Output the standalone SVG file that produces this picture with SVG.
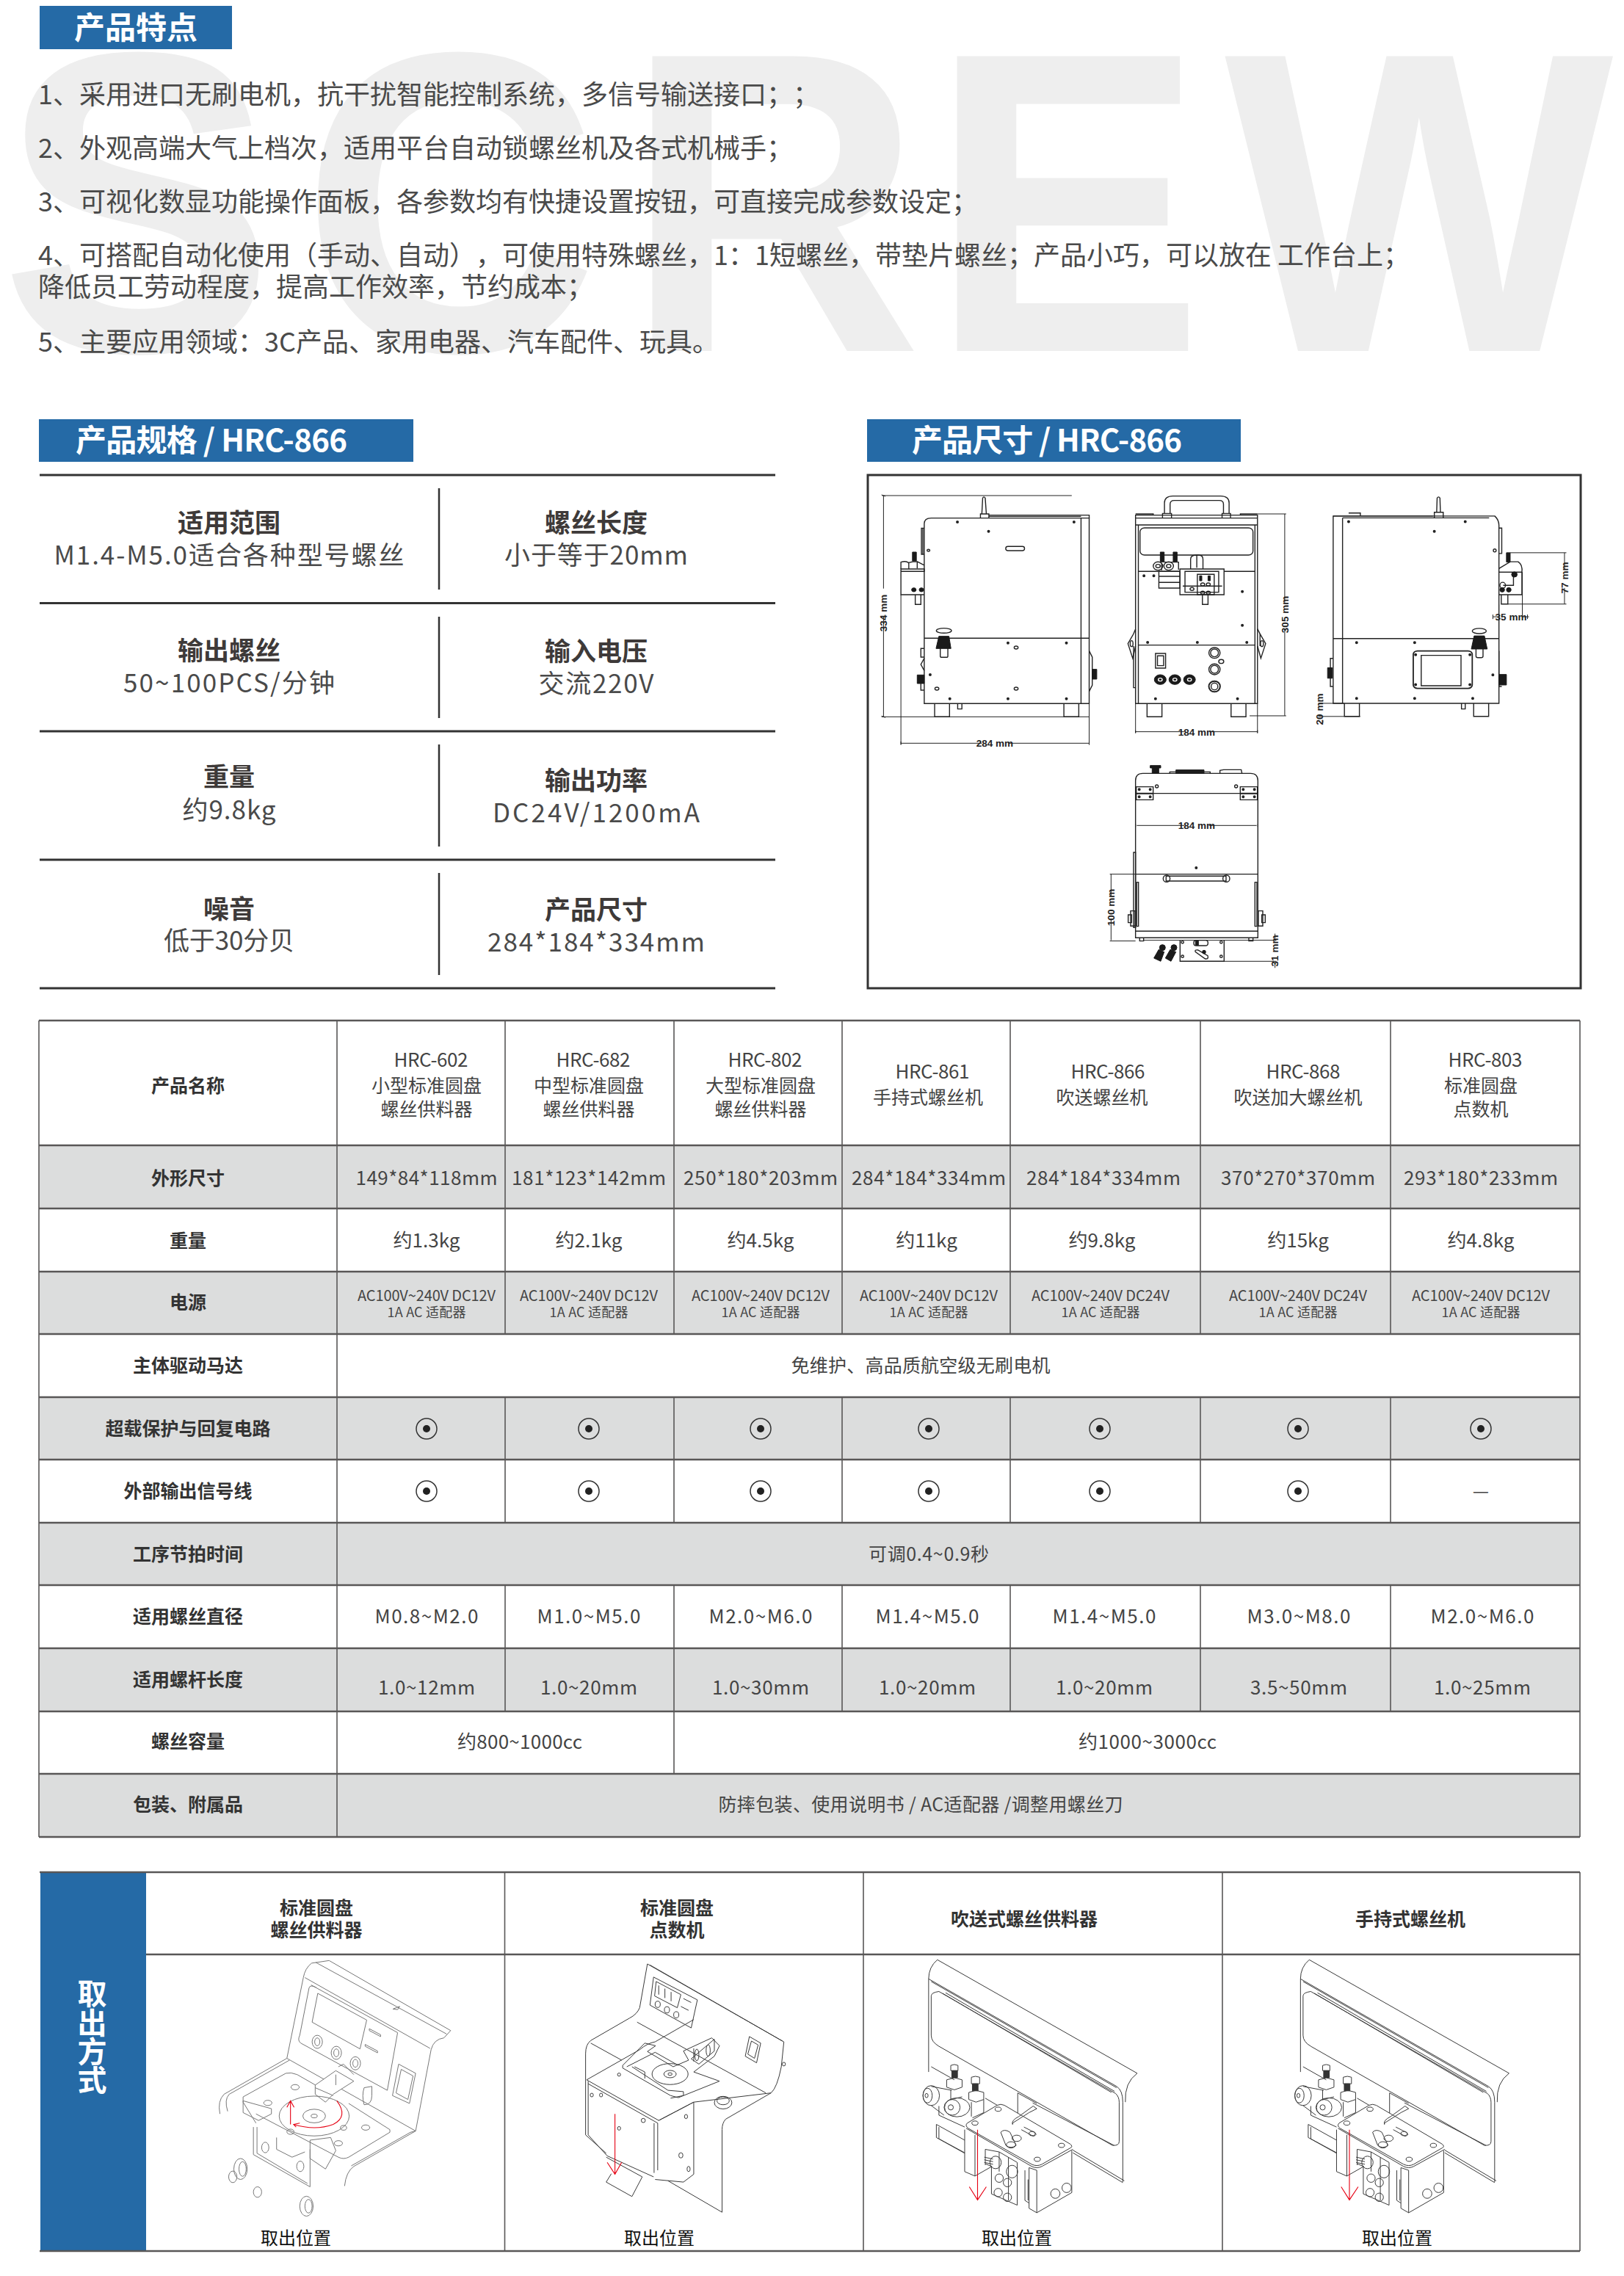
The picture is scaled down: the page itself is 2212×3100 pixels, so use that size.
<svg xmlns="http://www.w3.org/2000/svg" width="2212" height="3100" viewBox="0 0 2212 3100">
<style>
text{font-family:"Noto Sans CJK SC","Noto Sans",sans-serif;fill:#444;text-spacing-trim:space-all}
.f{font-size:36px;fill:#4a4a4a}
.h{font-size:42px;font-weight:700;fill:#fff;text-anchor:middle}
.sb{font-size:35px;font-weight:700;text-anchor:middle;fill:#3e3a39}
.sr{font-size:35px;text-anchor:middle;fill:#4a4a4a}
.lb{font-size:25px;font-weight:700;text-anchor:middle;fill:#333}
.v{font-size:25px;text-anchor:middle;fill:#444}
.n{font-size:26px;text-anchor:middle;fill:#444}
.p{font-size:20px;text-anchor:middle;fill:#444}
.q{font-size:18px;text-anchor:middle;fill:#444}
.k{font-size:24px;text-anchor:middle;fill:#111}
.d{font-family:"Liberation Sans",Arial,sans-serif;font-size:13.5px;font-weight:700;text-anchor:middle;fill:#222}
.hl{fill:#256aa6}
.g{fill:#dcdddd}
.ln,.ln *{fill:none;stroke:#222;stroke-width:1.4;vector-effect:non-scaling-stroke}
.th,.ln .th{fill:none;stroke:#222;stroke-width:1;vector-effect:non-scaling-stroke}
.bk,.ln .bk{fill:#1a1a1a;stroke:#1a1a1a;stroke-width:1;vector-effect:non-scaling-stroke}
.dt,.ln .dt{fill:none;stroke:#222;stroke-width:4;stroke-linecap:round;vector-effect:non-scaling-stroke}
.iso,.iso *{fill:none;stroke:#3a3a3a;stroke-width:1;vector-effect:non-scaling-stroke}
.lt,.lt *{stroke:#777}
.iso .red{stroke:#e60012;stroke-width:1.1;fill:none}
.iso .fw{fill:#fff}
.iso .bk2{fill:#333;stroke:#333}
</style>
<defs>
<g id="radio"><circle r="14" fill="none" stroke="#333" stroke-width="1.5"/><circle r="5" fill="#222"/></g>
<g id="blow" class="iso">
<path d="M252,362Q235,390 235,435V790M252,362L640,795Q615,830 617,905M235,435L600,845Q612,860 612,905V1210M240,445L600,850"/>
<path d="M255,483L598,872Q605,885 605,905V1055Q605,1072 592,1070L255,692Q240,675 240,650V500Q240,487 255,483ZM262,490L590,868M268,488L596,864"/>
<path d="M240,770L285,820M345,890L440,1000M437,908L595,1070M408,870V955M408,870L445,910"/>
<path d="M515,1088L615,1205M515,1098L612,1212"/>
<path d="M278,765Q285,758 292,765V785H278ZM318,810Q326,803 334,810V835H318Z"/>
<path class="bk2" d="M280,785H291V812H280ZM320,835H331V862H320Z"/>
<path d="M270,820L285,812L300,820V848L285,858L270,848ZM313,868L327,860L342,868V895L327,905L313,895ZM278,858V895L300,885M318,905V960M342,895V945L320,965"/>
<ellipse cx="240" cy="880" rx="16" ry="38"/><ellipse cx="233" cy="880" rx="9" ry="28"/><ellipse cx="231" cy="880" rx="3" ry="8"/>
<ellipse cx="290" cy="925" rx="25" ry="36"/><ellipse cx="281" cy="925" rx="15" ry="30"/><ellipse cx="278" cy="925" rx="5" ry="10"/>
<path d="M240,845L280,860M240,918L265,955M255,920V955L305,1000M250,990V1040L305,1100M255,1000V1045L305,1098M250,990L305,1050"/>
<path class="fw" d="M310,985L368,917Q375,910 382,917L510,1065Q516,1075 510,1080L455,1142Q445,1152 435,1142L312,1005Q305,995 310,985Z"/>
<path d="M308,1005L435,1150Q445,1160 455,1150L515,1085"/>
<ellipse cx="325" cy="985" rx="6" ry="8"/><ellipse cx="370" cy="932" rx="6" ry="8"/><ellipse cx="493" cy="1070" rx="6" ry="8"/><ellipse cx="446" cy="1123" rx="6" ry="8"/>
<path d="M375,1020Q382,1005 393,1020L405,1070Q395,1085 385,1070ZM398,985L430,945L445,930L438,920L410,960Q395,975 398,990ZM420,1000L440,1020Q448,1030 438,1035L415,1010"/>
<ellipse cx="406" cy="1043" rx="9" ry="12"/><ellipse cx="436" cy="1025" rx="6" ry="8"/><ellipse cx="395" cy="1068" rx="9" ry="12"/>
<path d="M305,1010V1170L325,1187L358,1150M325,1030V1187"/>
<path d="M345,1085V1145M345,1085L372,1095L407,1135V1298L357,1255V1150L345,1140M372,1095V1170M390,1115V1280"/>
<path d="M343,1115L360,1122M343,1125L360,1132M343,1135L360,1142"/>
<ellipse cx="365" cy="1135" rx="11" ry="24"/><ellipse cx="397" cy="1170" rx="11" ry="24"/><ellipse cx="372" cy="1195" rx="8" ry="16"/><ellipse cx="388" cy="1212" rx="8" ry="16"/><ellipse cx="370" cy="1250" rx="8" ry="16"/><ellipse cx="388" cy="1268" rx="8" ry="16"/>
<path d="M430,1155V1310L445,1327V1165L430,1155M445,1327L513,1250V1090M422,1165V1280L430,1290M428,1200V1280"/>
<ellipse cx="481" cy="1254" rx="9" ry="18"/><ellipse cx="503" cy="1232" rx="9" ry="18"/>
<path class="red" d="M330,1010V1278M314,1228L330,1278L347,1228"/>
</g>
</defs>

<g id="watermark"><text transform="translate(0,478) scale(1,1.04)" x="0 410 851 1266 1668" y="0" font-size="561" font-weight="700" style="font-family:'Liberation Sans',Arial,sans-serif;fill:#eeeeee">SCREW</text></g>

<g id="features">
<rect class="hl" x="54" y="8" width="262" height="59"/>
<text class="h" x="185" y="53">产品特点</text>
<text class="f" x="52" y="142">1、采用进口无刷电机，抗干扰智能控制系统，多信号输送接口；；</text>
<text class="f" x="52" y="215">2、外观高端大气上档次，适用平台自动锁螺丝机及各式机械手；</text>
<text class="f" x="52" y="288">3、可视化数显功能操作面板，各参数均有快捷设置按钮，可直接完成参数设定；</text>
<text class="f" x="52" y="361">4、可搭配自动化使用（手动、自动），可使用特殊螺丝，1：1短螺丝，带垫片螺丝；产品小巧，可以放在 工作台上；</text>
<text class="f" x="52" y="404">降低员工劳动程度，提高工作效率，节约成本；</text>
<text class="f" x="52" y="479">5、主要应用领域：3C产品、家用电器、汽车配件、玩具。</text>
</g>

<g id="spec">
<rect class="hl" x="53" y="571" width="510" height="58"/>
<text class="h" x="288" y="615" textLength="370">产品规格 / HRC-866</text>
<path fill="none" stroke="#333" stroke-width="3" d="M54,647H1056M54,821.5H1056M54,996H1056M54,1171H1056M54,1346H1056"/>
<path fill="none" stroke="#333" stroke-width="2.5" d="M598,665V803M598,840V978M598,1014V1153M598,1189V1328"/>
<text class="sb" x="312" y="725">适用范围</text><text class="sr" x="312" y="769" textLength="477">M1.4-M5.0适合各种型号螺丝</text>
<text class="sb" x="812" y="725">螺丝长度</text><text class="sr" x="812" y="769" textLength="250">小于等于20mm</text>
<text class="sb" x="312" y="899">输出螺丝</text><text class="sr" x="312" y="943" textLength="288">50~100PCS/分钟</text>
<text class="sb" x="812" y="900">输入电压</text><text class="sr" x="812" y="944" textLength="157">交流220V</text>
<text class="sb" x="312" y="1071">重量</text><text class="sr" x="312" y="1116" textLength="127">约9.8kg</text>
<text class="sb" x="812" y="1076">输出功率</text><text class="sr" x="812" y="1120" textLength="282">DC24V/1200mA</text>
<text class="sb" x="312" y="1251">噪音</text><text class="sr" x="312" y="1294" textLength="178">低于30分贝</text>
<text class="sb" x="812" y="1252">产品尺寸</text><text class="sr" x="812" y="1296" textLength="296">284*184*334mm</text>
</g>

<g id="dimensions">
<rect class="hl" x="1181" y="571" width="509" height="58"/>
<text class="h" x="1426" y="615" textLength="368">产品尺寸 / HRC-866</text>
<rect x="1182" y="647" width="971" height="699" fill="#fff" stroke="#333" stroke-width="3"/>

<g id="view-side" class="ln" transform="translate(1190,650) scale(.3827,.3333)">
<path d="M180,925V190Q180,167 205,167H767V925ZM738,167V925M180,658H767"/>
<path d="M410,155H767V167M410,160H738"/>
<path d="M385,150L388,85Q392,76 397,85L401,150M380,167V150H410V167"/>
<path d="M217,925V979H270V925M677,925V979H730V925M299,925V947H314V925"/>
<path d="M180,208H170V315H180M175,208V315"/>
<rect x="470" y="283" width="67" height="17" rx="8"/>
<path d="M97,385H180V375H97ZM97,385V480H180"/>
<path d="M148,480V520H168V480"/>
<rect class="bk" x="138" y="306" width="14" height="36"/>
<path d="M122,350L140,345H155V372M155,345L180,360M97,375V347Q115,340 125,350V375"/>
<ellipse class="bk" cx="143" cy="460" rx="8" ry="8"/><ellipse class="bk" cx="170" cy="460" rx="8" ry="8"/>
<ellipse cx="250" cy="627" rx="27" ry="10"/>
<rect x="237" y="690" width="27" height="46" rx="5"/>
<path class="bk" d="M232,650H268L275,700H222Z"/>
<path d="M767,710L778,735V850L767,875"/><rect class="bk" x="778" y="785" width="16" height="40"/>
<path d="M180,700H168V735H180M180,740L168,765L180,790M168,840V870H180"/>
<rect class="bk" x="155" y="808" width="25" height="35"/>
<path class="dt" d="M298,183h0M713,183h0M409,221h0M478,677h0M686,677h0M201,807h0M271,905h0M478,905h0M686,905h0"/>
<ellipse cx="195" cy="299" rx="5" ry="4"/><ellipse cx="507" cy="696" rx="7" ry="6"/><ellipse cx="225" cy="864" rx="7" ry="6"/><ellipse cx="507" cy="864" rx="7" ry="6"/>
<path class="th" d="M30,75H705M35,75V455M35,570V979M28,979H767M97,480V1092M767,925V1092M97,1087H385M480,1087H767M28,72L42,78M28,976L42,982M97,1080V1094M767,1080V1094"/>
</g>

<g id="view-front" class="ln" transform="translate(1190,650) scale(.3827,.3333)">
<path d="M932,925V155H1366V925ZM942,195V925M1357,195V925M932,167H1366M932,195H1366M932,155H995V150H932M1305,155V150H1366M942,686H1357M942,385H1090M1247,385H1357"/>
<rect x="948" y="207" width="402" height="111" rx="16"/>
<path d="M1035,148V105Q1035,77 1065,77H1235Q1265,77 1265,105V148M1055,148V110Q1055,95 1070,95H1230Q1245,95 1245,110V148M1028,165V148H1060V165M1240,165V148H1270V165"/>
<path d="M1128,375V335Q1128,318 1150,318H1155Q1172,318 1172,335V375M1150,318V370"/>
<path d="M1090,375H1247V480H1090ZM1108,385H1228V470H1108ZM1100,445H1240"/>
<rect x="1152" y="397" width="60" height="83"/>
<path class="bk" d="M1160,403h8v20h-8ZM1190,403h8v20h-8Z"/>
<ellipse cx="1171" cy="438" rx="7" ry="6"/><ellipse cx="1191" cy="438" rx="7" ry="6"/><ellipse cx="1171" cy="472" rx="7" ry="6"/><ellipse cx="1191" cy="472" rx="7" ry="6"/><ellipse cx="1133" cy="457" rx="7" ry="6"/>
<path d="M1170,480V520H1190V480"/>
<path d="M1015,385H1090V453H1015ZM1015,405H1090M1015,430H1090"/>
<rect class="bk" x="1020" y="306" width="14" height="40"/><rect class="bk" x="1066" y="306" width="14" height="40"/>
<ellipse cx="1012" cy="363" rx="17" ry="17"/><ellipse cx="1012" cy="363" rx="8" ry="7"/><ellipse cx="1050" cy="363" rx="17" ry="17"/><ellipse cx="1050" cy="363" rx="8" ry="7"/>
<path d="M1033,347H1085V378M1025,350V380"/>
<rect x="1003" y="720" width="36" height="60"/><rect x="1010" y="730" width="22" height="40"/>
<ellipse class="bk" cx="1020" cy="827" rx="21" ry="20"/><ellipse class="bk" cx="1072" cy="827" rx="21" ry="20"/><ellipse class="bk" cx="1124" cy="827" rx="21" ry="20"/>
<ellipse cx="1020" cy="827" rx="7" ry="6" style="stroke:#fff"/><ellipse cx="1072" cy="827" rx="7" ry="6" style="stroke:#fff"/><ellipse cx="1124" cy="827" rx="7" ry="6" style="stroke:#fff"/>
<ellipse cx="1213" cy="718" rx="20" ry="22"/><ellipse cx="1213" cy="718" rx="14" ry="16"/><ellipse cx="1213" cy="785" rx="20" ry="22"/><ellipse cx="1213" cy="785" rx="14" ry="16"/><ellipse cx="1213" cy="855" rx="20" ry="22" style="stroke-width:2"/><ellipse cx="1213" cy="855" rx="12" ry="14"/><ellipse cx="1237" cy="753" rx="9" ry="8"/>
<path d="M973,925V979H1026V925M1272,925V979H1325V925"/>
<path d="M932,620L925,640L905,680L922,740L932,690M1366,620L1375,640L1395,680L1378,740L1366,690"/>
<ellipse cx="918" cy="680" rx="5" ry="12"/><ellipse cx="1382" cy="680" rx="5" ry="12"/>
<path d="M925,690V860H932M1375,640V690"/>
<path class="dt" d="M962,403h0M997,403h0M1312,467h0M1312,605h0M975,675h0M1152,675h0M1328,675h0M1003,905h0M1295,905h0"/>
<path class="th" d="M1366,150H1468M1463,150V510M1463,620V975M1338,975H1468M932,925V1045M1366,925V1045M932,1040H1105M1195,1040H1366M932,1034V1046M1366,1034V1046"/>
</g>

<g id="view-back" class="ln" transform="translate(1180,560) scale(.6378,.5102)">
<path d="M997,780V280H1342Q1351,290 1351,305V780ZM1017,285V780M997,607H1351M1017,285H1330"/>
<path d="M997,280H1210M1030,272H1055V280"/>
<path d="M1218,270L1219,232Q1222,226 1225,232L1226,270M1213,285V270H1232V285"/>
<path d="M1021,780V815H1053V780M1297,780V815H1329V780M1271,780V795H1279V780"/>
<path d="M1351,312H1357V380H1351M1351,430H1400V490H1351M1356,490V515H1370V490"/>
<rect class="bk" x="1367" y="378" width="8" height="25"/>
<path d="M1351,420L1375,402H1392Q1402,410 1400,430H1351M1382,440V465H1360"/>
<ellipse class="bk" cx="1384" cy="436" rx="6" ry="7"/><ellipse cx="1359" cy="465" rx="6" ry="8"/><ellipse class="bk" cx="1372" cy="477" rx="5" ry="6"/><ellipse class="bk" cx="1358" cy="477" rx="5" ry="6"/>
<rect x="1168" y="640" width="126" height="100" rx="9" style="stroke-width:1.8"/>
<rect x="1185" y="652" width="85" height="81"/>
<ellipse cx="1309" cy="587" rx="15" ry="7"/><rect x="1302" y="620" width="15" height="38" rx="4"/><path class="bk" d="M1298,600H1320L1326,635H1292Z"/>
<path d="M997,660H991V735H997"/><rect class="bk" x="985" y="685" width="10" height="28"/>
<path d="M1351,640V735H1357"/><rect class="bk" x="1351" y="703" width="16" height="28"/>
<path class="dt" d="M1030,295h0M1213,321h0M1279,295h0M1047,618h0M1171,618h0M1338,704h0M1047,767h0M1171,767h0M1295,767h0M1173,650h0M1289,650h0M1173,730h0M1289,730h0"/>
<ellipse cx="1342" cy="372" rx="3" ry="4"/>
<path class="th" d="M1375,378H1495M1370,515H1495M1491,378V422M1491,472V515M1401,430V550M1338,549H1352M1400,549H1415M1338,543V555M1412,543V555M965,780H1020M965,815H1055M975,770V775M975,825V832"/>
</g>

<g id="view-top" class="ln" transform="translate(1500,1030) scale(.3333)">
<path d="M140,742V100Q140,70 170,70H610Q640,70 640,100V742ZM140,152H640M140,482H640M140,715H640"/>
<rect x="143" y="125" width="69" height="26"/><rect x="143" y="153" width="69" height="25"/><rect x="568" y="125" width="70" height="26"/><rect x="568" y="153" width="70" height="25"/>
<path class="dt" d="M155,136h0M200,136h0M155,166h0M200,166h0M580,136h0M626,136h0M580,166h0M626,166h0M388,456h0"/>
<path class="bk" d="M200,38H243V48H235V70H208V48H200ZM305,56H420V70H305Z"/>
<path d="M280,70V64H445V70M485,70V58L500,55H572L575,70"/>
<circle cx="227" cy="123" r="6"/><circle cx="551" cy="123" r="6"/>
<path d="M265,490H510V510H265Z"/><circle cx="267" cy="500" r="14"/><circle cx="511" cy="500" r="14"/>
<path d="M132,393H140V700H132ZM145,515H152V695H145ZM628,515H636V695H628Z"/>
<rect x="110" y="648" width="14" height="32"/><rect x="120" y="632" width="18" height="62"/><rect x="656" y="648" width="14" height="32"/><rect x="642" y="632" width="18" height="62"/>
<path d="M157,742V755H173V742M603,742V755H620V742"/>
<path d="M322,752V838H502V752"/>
<circle cx="332" cy="760" r="5"/><circle cx="490" cy="760" r="5"/><circle cx="332" cy="818" r="5"/><circle cx="490" cy="818" r="5"/>
<rect x="378" y="752" width="58" height="22" rx="10"/><path class="bk" d="M385,754h12v18h-12Z"/>
<path d="M385,800Q380,790 395,792L435,815Q440,830 425,828Z"/><circle class="bk" cx="420" cy="800" r="7"/>
<circle class="bk" cx="250" cy="782" r="12"/><circle class="bk" cx="297" cy="782" r="12"/>
<path class="bk" d="M235,790L257,800L243,838L215,825ZM282,790L305,800L285,838L262,825Z"/>
<path class="th" d="M35,482H140M40,482V570M40,665V752M35,755H140M173,752H715M502,838H715M710,725V745M710,845V865M705,752H715M145,283H340M440,283H635M140,277V289M640,277V289"/>
</g>
<text class="d" transform="translate(1208,835) rotate(-90)">334 mm</text>
<text class="d" x="1355" y="1017">284 mm</text>
<text class="d" x="1630" y="1002">184 mm</text>
<text class="d" transform="translate(1755,837) rotate(-90)">305 mm</text>
<text class="d" transform="translate(2136,787) rotate(-90)">77 mm</text>
<text class="d" x="2058" y="845">35 mm</text>
<text class="d" transform="translate(1802,966) rotate(-90)">20 mm</text>
<text class="d" x="1630" y="1129">184 mm</text>
<text class="d" transform="translate(1518,1236) rotate(-90)">100 mm</text>
<text class="d" transform="translate(1741,1295) rotate(-90)">31 mm</text>
</g>

<g id="table">
<path class="g" d="M53,1560H2152V1646H53ZM53,1732H2152V1817H53ZM53,1903H2152V1988H53ZM53,2074H2152V2159H53ZM53,2245H2152V2331H53ZM53,2416H2152V2502H53Z"/>
<path fill="none" stroke="#595757" stroke-width="2.4" d="M53,1390H2152M53,1560H2152M53,1646H2152M53,1732H2152M53,1817H2152M53,1903H2152M53,1988H2152M53,2074H2152M53,2159H2152M53,2245H2152M53,2331H2152M53,2416H2152M53,2502H2152"/>
<path fill="none" stroke="#595757" stroke-width="1.6" d="M53,1390V2502M2152,1390V2502M459,1390V2502M688,1390V1817M918,1390V1817M1147,1390V1817M1376,1390V1817M1635,1390V1817M1894,1390V1817M688,1903V2074M918,1903V2074M1147,1903V2074M1376,1903V2074M1635,1903V2074M1894,1903V2074M688,2159V2331M918,2159V2416M1147,2159V2331M1376,2159V2331M1635,2159V2331M1894,2159V2331"/>

<text class="lb" x="256" y="1488">产品名称</text><text class="lb" x="256" y="1614">外形尺寸</text><text class="lb" x="256" y="1699">重量</text><text class="lb" x="256" y="1783">电源</text><text class="lb" x="256" y="1869">主体驱动马达</text><text class="lb" x="256" y="1955">超载保护与回复电路</text><text class="lb" x="256" y="2040">外部输出信号线</text><text class="lb" x="256" y="2126">工序节拍时间</text><text class="lb" x="256" y="2211">适用螺丝直径</text><text class="lb" x="256" y="2297">适用螺杆长度</text><text class="lb" x="256" y="2381">螺丝容量</text><text class="lb" x="256" y="2467">包装、附属品</text>

<text class="n" x="587" y="1453" textLength="101">HRC-602</text><text class="v" x="581" y="1488">小型标准圆盘</text><text class="v" x="581" y="1520">螺丝供料器</text>
<text class="n" x="808" y="1453" textLength="101">HRC-682</text><text class="v" x="802" y="1488">中型标准圆盘</text><text class="v" x="802" y="1520">螺丝供料器</text>
<text class="n" x="1042" y="1453" textLength="101">HRC-802</text><text class="v" x="1036" y="1488">大型标准圆盘</text><text class="v" x="1036" y="1520">螺丝供料器</text>
<text class="n" x="1270" y="1469" textLength="101">HRC-861</text><text class="v" x="1264" y="1504">手持式螺丝机</text>
<text class="n" x="1509" y="1469" textLength="101">HRC-866</text><text class="v" x="1501" y="1504">吹送螺丝机</text>
<text class="n" x="1775" y="1469" textLength="101">HRC-868</text><text class="v" x="1768" y="1504">吹送加大螺丝机</text>
<text class="n" x="2023" y="1453" textLength="101">HRC-803</text><text class="v" x="2017" y="1488">标准圆盘</text><text class="v" x="2017" y="1520">点数机</text>

<text class="n" x="581" y="1614" textLength="193">149*84*118mm</text><text class="n" x="802" y="1614" textLength="210">181*123*142mm</text><text class="n" x="1036" y="1614" textLength="210">250*180*203mm</text><text class="n" x="1265" y="1614" textLength="210">284*184*334mm</text><text class="n" x="1503" y="1614" textLength="210">284*184*334mm</text><text class="n" x="1768" y="1614" textLength="210">370*270*370mm</text><text class="n" x="2017" y="1614" textLength="210">293*180*233mm</text>
<text class="n" x="581" y="1699">约1.3kg</text><text class="n" x="802" y="1699">约2.1kg</text><text class="n" x="1036" y="1699">约4.5kg</text><text class="n" x="1262" y="1699">约11kg</text><text class="n" x="1501" y="1699">约9.8kg</text><text class="n" x="1768" y="1699">约15kg</text><text class="n" x="2017" y="1699">约4.8kg</text>

<text class="p" x="581" y="1772" textLength="188">AC100V~240V DC12V</text><text class="q" x="581" y="1794" textLength="107">1A AC 适配器</text>
<text class="p" x="802" y="1772" textLength="188">AC100V~240V DC12V</text><text class="q" x="802" y="1794" textLength="107">1A AC 适配器</text>
<text class="p" x="1036" y="1772" textLength="188">AC100V~240V DC12V</text><text class="q" x="1036" y="1794" textLength="107">1A AC 适配器</text>
<text class="p" x="1265" y="1772" textLength="188">AC100V~240V DC12V</text><text class="q" x="1265" y="1794" textLength="107">1A AC 适配器</text>
<text class="p" x="1499" y="1772" textLength="188">AC100V~240V DC24V</text><text class="q" x="1499" y="1794" textLength="107">1A AC 适配器</text>
<text class="p" x="1768" y="1772" textLength="188">AC100V~240V DC24V</text><text class="q" x="1768" y="1794" textLength="107">1A AC 适配器</text>
<text class="p" x="2017" y="1772" textLength="188">AC100V~240V DC12V</text><text class="q" x="2017" y="1794" textLength="107">1A AC 适配器</text>

<text class="v" x="1254" y="1869" textLength="353">免维护、高品质航空级无刷电机</text>
<use href="#radio" x="581" y="1946"/><use href="#radio" x="802" y="1946"/><use href="#radio" x="1036" y="1946"/><use href="#radio" x="1265" y="1946"/><use href="#radio" x="1498" y="1946"/><use href="#radio" x="1768" y="1946"/><use href="#radio" x="2017" y="1946"/>
<use href="#radio" x="581" y="2031"/><use href="#radio" x="802" y="2031"/><use href="#radio" x="1036" y="2031"/><use href="#radio" x="1265" y="2031"/><use href="#radio" x="1498" y="2031"/><use href="#radio" x="1768" y="2031"/>
<text class="v" x="2017" y="2040">—</text>
<text class="v" x="1265" y="2126" textLength="164">可调0.4~0.9秒</text>

<text class="n" x="581" y="2211" textLength="141">M0.8~M2.0</text><text class="n" x="802" y="2211" textLength="141">M1.0~M5.0</text><text class="n" x="1036" y="2211" textLength="141">M2.0~M6.0</text><text class="n" x="1263" y="2211" textLength="141">M1.4~M5.0</text><text class="n" x="1504" y="2211" textLength="141">M1.4~M5.0</text><text class="n" x="1769" y="2211" textLength="141">M3.0~M8.0</text><text class="n" x="2019" y="2211" textLength="141">M2.0~M6.0</text>
<text class="n" x="581" y="2308" textLength="132">1.0~12mm</text><text class="n" x="802" y="2308" textLength="132">1.0~20mm</text><text class="n" x="1036" y="2308" textLength="132">1.0~30mm</text><text class="n" x="1263" y="2308" textLength="132">1.0~20mm</text><text class="n" x="1504" y="2308" textLength="132">1.0~20mm</text><text class="n" x="1769" y="2308" textLength="132">3.5~50mm</text><text class="n" x="2019" y="2308" textLength="132">1.0~25mm</text>
<text class="n" x="708" y="2382" textLength="170">约800~1000cc</text><text class="n" x="1563" y="2382" textLength="188">约1000~3000cc</text>
<text class="v" x="1254" y="2467" textLength="551">防摔包装、使用说明书 / AC适配器 /调整用螺丝刀</text>
</g>

<g id="pickup">
<rect class="hl" x="55" y="2551" width="144" height="515"/>
<path fill="none" stroke="#595757" stroke-width="2.4" d="M54,2550H2152M199,2662H2152M54,3066H2152"/>
<path fill="none" stroke="#595757" stroke-width="1.6" d="M687.5,2550V3066M1176,2550V3066M1665,2550V3066M2152,2550V3066"/>
<text style="font-size:40px;font-weight:700;fill:#fff" text-anchor="middle"><tspan x="125.5" y="2730">取</tspan><tspan x="125.5" y="2770">出</tspan><tspan x="125.5" y="2809">方</tspan><tspan x="125.5" y="2848">式</tspan></text>
<text class="lb" x="431" y="2608">标准圆盘</text><text class="lb" x="431" y="2638">螺丝供料器</text>
<text class="lb" x="922" y="2608">标准圆盘</text><text class="lb" x="922" y="2638">点数机</text>
<text class="lb" x="1395" y="2623">吹送式螺丝供料器</text>
<text class="lb" x="1921" y="2623">手持式螺丝机</text>
<text class="k" x="403" y="3057">取出位置</text><text class="k" x="898" y="3057">取出位置</text><text class="k" x="1385" y="3057">取出位置</text><text class="k" x="1903" y="3057">取出位置</text>

<g id="iso-disc" class="iso lt" transform="translate(40,2540) scale(.7015,.3571)">
<path d="M548,375Q535,395 532,430L500,738M548,375L582,365L818,632L805,660Q785,665 780,705L750,1015M556,372L810,645M535,430L778,700"/>
<path d="M547,458L715,640L695,860L527,680Q520,670 525,650L543,470Q545,455 557,468"/>
<path d="M560,490L655,592L642,702L549,600Z"/>
<ellipse cx="559" cy="675" rx="10" ry="25"/><ellipse cx="559" cy="675" rx="5" ry="15"/><ellipse cx="596" cy="717" rx="10" ry="25"/><ellipse cx="596" cy="717" rx="5" ry="15"/><ellipse cx="633" cy="757" rx="10" ry="25"/><ellipse cx="633" cy="757" rx="5" ry="15"/>
<path d="M660,625L682,648V655L660,632ZM652,685L676,710V717L652,692ZM712,545L719,540L715,552L706,550Z"/>
<path d="M717,760L750,795L738,910L705,880ZM722,780L745,805L735,895L712,870Z"/>
<path d="M500,738L378,875Q365,900 370,950M505,745L388,875Q378,895 385,940M500,738L750,1015L630,1150Q615,1170 612,1225M750,1015L740,1020L625,1148"/>
<path d="M498,795L415,885V905L440,985M498,795Q508,790 520,800L560,845M620,910L700,1010V1020L620,1115Q610,1125 600,1115L440,950M600,770L610,760L630,800M650,850Q645,880 650,915Q665,915 665,880V845Z"/>
<path class="fw" d="M555,840L595,785L630,825L590,875L575,905L555,875Z"/><path d="M555,850L590,880M595,800V840"/>
<ellipse cx="553" cy="958" rx="68" ry="76"/>
<ellipse cx="553" cy="958" rx="22" ry="26"/><ellipse cx="553" cy="958" rx="6" ry="7"/>
<ellipse cx="516" cy="848" rx="8" ry="10"/><ellipse cx="463" cy="908" rx="8" ry="10"/><ellipse cx="653" cy="1002" rx="8" ry="10"/><ellipse cx="600" cy="1062" rx="8" ry="10"/><ellipse cx="507" cy="1018" rx="7" ry="10"/><ellipse cx="610" cy="1003" rx="6" ry="9"/>
<path d="M415,900L470,930V950L445,975L415,945ZM545,1050L585,1040L595,1090L575,1160L545,1120Z"/>
<path d="M435,1000V1105L545,1228V1085M442,1000V1100L540,1215M480,1040V1085L510,1115L535,1095"/>
<ellipse cx="458" cy="1078" rx="7" ry="20"/><ellipse cx="526" cy="1150" rx="7" ry="20"/>
<ellipse cx="410" cy="1160" rx="13" ry="40"/><ellipse cx="414" cy="1160" rx="7" ry="28"/><ellipse cx="395" cy="1190" rx="8" ry="22"/><ellipse cx="443" cy="1248" rx="8" ry="20"/><ellipse cx="538" cy="1302" rx="13" ry="38"/><ellipse cx="542" cy="1302" rx="7" ry="26"/>
<path class="red" d="M507,990V900M500,925L507,900L514,925M597,900Q620,960 590,990Q555,1015 513,990M525,985L513,990L518,1000"/>
</g>

<g id="iso-counter" class="iso" transform="translate(40,2540) scale(.7015,.3571)">
<path d="M1200,378L1465,675L1460,770Q1452,850 1440,870L1352,970Q1345,985 1345,1010V1325L1240,1205M1205,382L1462,672M1200,378L1185,545Q1180,570 1165,585L1090,670Q1080,685 1080,720V1030L1120,1100"/>
<path d="M1212,428L1297,515L1285,622L1205,535Z"/>
<path d="M1217,445L1265,495L1258,545L1214,500Z"/>
<path d="M1222,460V495M1234,472V508M1246,485V520M1270,510L1285,525M1265,540L1280,555"/>
<ellipse cx="1220" cy="532" rx="5" ry="12"/><ellipse cx="1238" cy="553" rx="5" ry="12"/><ellipse cx="1256" cy="572" rx="5" ry="12"/>
<path d="M1398,655L1420,680L1412,755L1390,730ZM1402,672L1415,687L1408,738L1395,722Z"/>
<path d="M1090,680L1150,745M1180,600L1430,870M1082,820L1185,705Q1200,680 1215,675L1290,590M1082,820L1222,975L1290,905L1440,870"/>
<path d="M1085,835L1220,985V1165M1213,985V1175M1222,975L1290,905V1180L1270,1210L1215,1200"/>
<path d="M1085,825V1030L1122,1110L1212,1190"/>
<path d="M1152,765L1195,680L1216,690L1200,712L1250,770L1280,745L1270,710L1325,660L1340,690L1330,730L1290,790L1340,825L1260,888L1245,880L1152,775Z"/>
<path d="M1160,770L1215,715L1260,765M1170,770L1240,860L1270,865V880L1245,890M1175,770L1195,790V815"/>
<ellipse cx="1244" cy="798" rx="35" ry="40"/><ellipse cx="1244" cy="798" rx="12" ry="14"/><ellipse cx="1244" cy="798" rx="4" ry="5"/>
<path d="M1285,740L1330,665V710L1300,760ZM1290,700V750"/>
<ellipse cx="1296" cy="725" rx="4" ry="22"/><ellipse cx="1318" cy="708" rx="4" ry="22"/>
<ellipse cx="1347" cy="907" rx="17" ry="24"/><ellipse cx="1347" cy="900" rx="12" ry="15"/>
<ellipse cx="1092" cy="878" rx="3" ry="7"/><ellipse cx="1110" cy="878" rx="3" ry="7"/><ellipse cx="1145" cy="1005" rx="3" ry="7"/><ellipse cx="1192" cy="975" rx="4" ry="8"/><ellipse cx="1265" cy="1108" rx="4" ry="10"/><ellipse cx="1280" cy="1160" rx="3" ry="10"/><ellipse cx="1275" cy="960" rx="3" ry="8"/><ellipse cx="1465" cy="760" rx="3" ry="7"/><ellipse cx="1145" cy="800" rx="3" ry="6"/>
<path d="M1130,1178L1120,1210L1170,1265L1190,1190M1120,1115L1190,1190"/>
<path class="red" d="M1137,950V1180M1122,1135L1137,1180L1150,1135"/>
</g>

<g id="iso-blow" transform="translate(1100,2540) scale(.7015,.3571)"><use href="#blow"/></g>
<g id="iso-hand" transform="translate(1606.5,2540) scale(.7015,.3571)"><use href="#blow"/></g>
</g>
</svg>
